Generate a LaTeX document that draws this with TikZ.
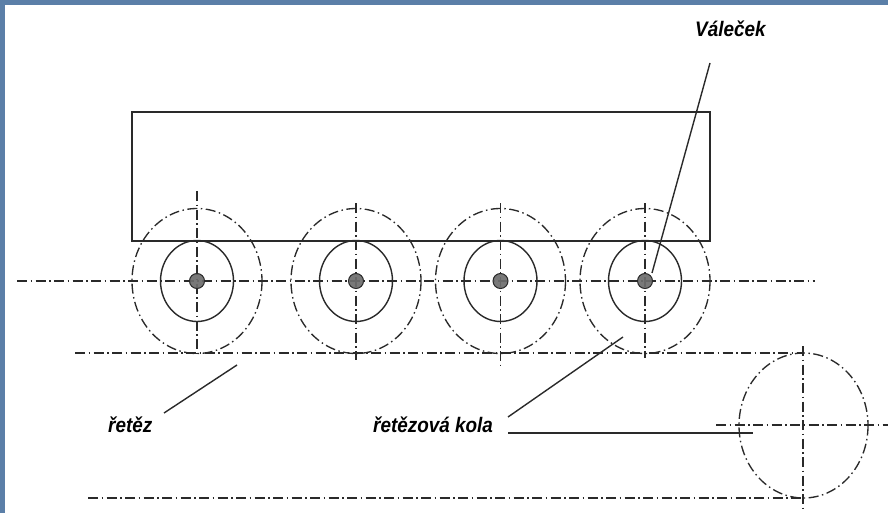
\documentclass[tikz,border=0pt]{standalone}
\usepackage{fontspec}
\setmainfont{Liberation Sans}
\definecolor{frameblue}{HTML}{5B7FA8}
\definecolor{inkgray}{HTML}{2A2A2A}
\definecolor{hubgray}{HTML}{6E6E6E}
\tikzset{
  centerline/.style={inkgray, line width=1.35pt, dash pattern=on 10pt off 3.5pt on 1.5pt off 3.5pt},
  solidline/.style={inkgray, line width=1.4pt},
  caption/.style={anchor=base west, inner sep=0pt, xscale=.9, transform shape, font=\fontsize{21}{23}\selectfont\bfseries\itshape},
}
\begin{document}
\begin{tikzpicture}[x=1pt, y=-1pt]
  \useasboundingbox (0,0) rectangle (888,513);
  \fill[frameblue] (0,0) rectangle (888,5);
  \fill[frameblue] (0,0) rectangle (5,513);
  % carriage
  \draw[solidline] (132,112) rectangle (710,241);
  % center lines
  \draw[centerline] (17,281) -- (815,281);
  \draw[centerline] (75,353) -- (803,353);
  \draw[centerline] (88,498) -- (803,498);
  % wheels
  \foreach \cx/\ya/\yb in {197/191/353, 356/203/360, 500.5/203/368, 645/203/358}{
    \draw[centerline] (\cx,\ya) -- (\cx,\yb);
    \draw[centerline] (\cx,281) ellipse (65 and 72.5);
    \draw[solidline] (\cx,281) ellipse (36.5 and 40.5);
    \draw[inkgray, line width=1pt, fill=hubgray, fill opacity=.92] (\cx,281) circle (7.5);
  }
  % drive wheel
  \draw[centerline] (803.5,425.5) ellipse (64.5 and 72.5);
  \draw[centerline] (803,346) -- (803,510);
  \draw[centerline] (716,425) -- (888,425);
  % labels
  \node[caption] (valecek) at (695,37) {Váleček};
  \node[caption] (retez) at (108,432) {řetěz};
  \node[caption] (kola) at (373,432) {řetězová kola};
  % leaders
  \coordinate (valecektop) at (710,63);
  \coordinate (valecekend) at (652,273);
  \coordinate (retezlow) at (164,413);
  \coordinate (retezend) at (237,365);
  \coordinate (kolalow) at (508,417);
  \coordinate (kolaend) at (623,337);
  \coordinate (shaftlow) at (508,433);
  \coordinate (shaftend) at (753,433);
  \draw[solidline] (valecektop) -- (valecekend);
  \draw[solidline] (retezlow) -- (retezend);
  \draw[solidline] (kolalow) -- (kolaend);
  \draw[solidline] (shaftlow) -- (shaftend);
\end{tikzpicture}
\end{document}
